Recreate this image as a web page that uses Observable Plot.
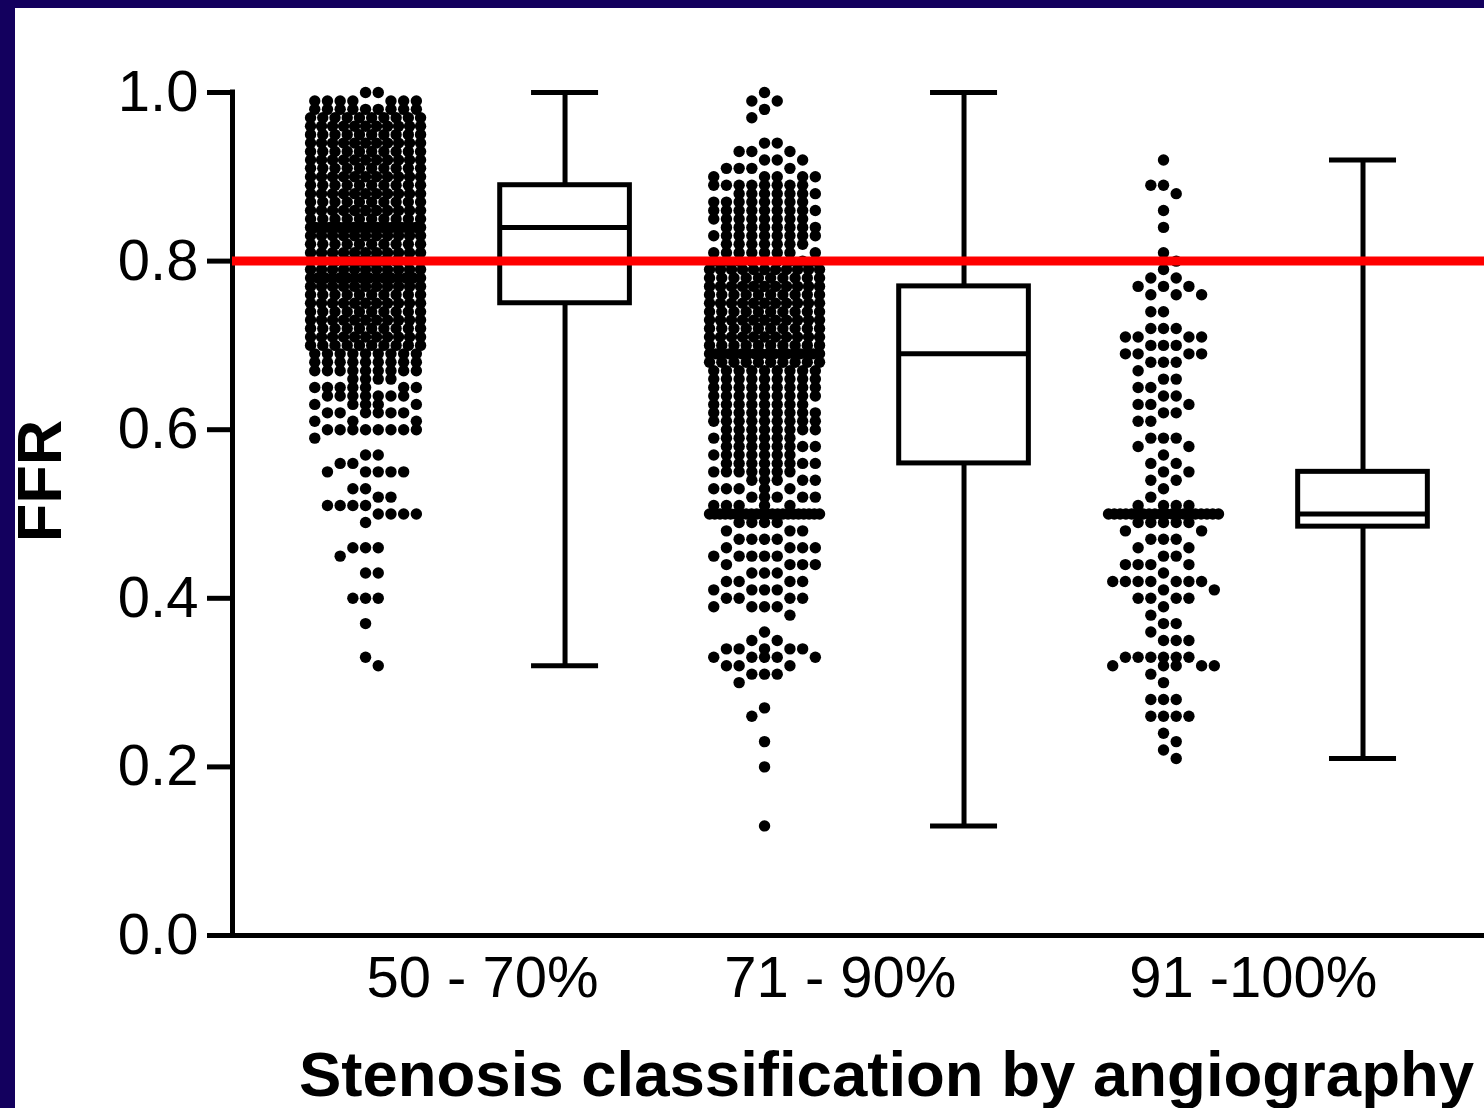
<!DOCTYPE html>
<html>
<head>
<meta charset="utf-8">
<script src="https://cdn.jsdelivr.net/npm/d3@7"></script>
<script src="https://cdn.jsdelivr.net/npm/@observablehq/plot@0.6"></script>
<style>
html, body { margin: 0; padding: 0; background: #13005e; width: 1484px; height: 1108px; overflow: hidden; }
#panel { position: absolute; left: 15px; top: 8px; width: 1469px; height: 1100px; background: #ffffff; }
#chart { position: absolute; left: 0; top: 8px; width: 1484px; height: 1100px; }
#chart svg { display: block; overflow: visible; }
</style>
</head>
<body>
<div id="panel"></div>
<div id="chart"></div>
<script>
// ---------- data ----------
const groups = ["50 - 70%", "71 - 90%", "91 -100%"];
const xTitle = "Stenosis classification by angiography";
const yTitle = "FFR";
const yTicks = [0, 0.2, 0.4, 0.6, 0.8, 1.0];
const cutoff = 0.80;

// individual lesions: FFR value rows and number of dots in each row
const g1Values = [1.00,0.99,0.98,0.97,0.96,0.95,0.94,0.93,0.92,0.91,0.90,0.89,0.88,0.87,0.86,0.85,0.84,0.83,0.82,0.81,0.80,0.79,0.78,0.77,0.76,0.75,0.74,0.73,0.72,0.71,0.70,0.69,0.68,0.67,0.66,0.65,0.64,0.63,0.62,0.61,0.60,0.59,0.57,0.56,0.55,0.53,0.52,0.51,0.50,0.49,0.46,0.45,0.43,0.40,0.37,0.33,0.32];
const g1Counts = [2,7,9,10,11,10,11,10,11,10,11,10,11,10,11,10,24,11,10,11,10,11,16,11,10,11,10,11,10,11,10,9,9,9,4,7,7,5,6,3,8,1,2,2,5,2,2,4,4,1,3,1,2,3,1,1,1];

const g2Values = [1.00,0.99,0.98,0.97,0.94,0.93,0.92,0.91,0.90,0.89,0.88,0.87,0.86,0.85,0.84,0.83,0.82,0.81,0.80,0.79,0.78,0.77,0.76,0.75,0.74,0.73,0.72,0.71,0.70,0.69,0.68,0.67,0.66,0.65,0.64,0.63,0.62,0.61,0.60,0.59,0.58,0.57,0.56,0.55,0.54,0.53,0.52,0.51,0.50,0.49,0.48,0.47,0.46,0.45,0.44,0.43,0.42,0.41,0.40,0.39,0.38,0.36,0.35,0.34,0.33,0.32,0.31,0.30,0.27,0.26,0.23,0.20,0.13];
const g2Counts = [1,2,1,1,2,3,3,4,5,8,7,8,9,8,8,9,7,8,9,11,10,11,10,11,10,11,10,11,10,18,10,9,9,9,9,8,9,9,8,7,8,7,8,7,5,5,5,5,22,4,3,4,4,5,4,3,4,4,4,4,1,1,2,5,5,3,3,1,1,1,1,1,1];

const g3Values = [0.92,0.89,0.88,0.86,0.84,0.81,0.80,0.79,0.78,0.77,0.76,0.74,0.72,0.71,0.70,0.69,0.68,0.67,0.66,0.65,0.64,0.63,0.62,0.61,0.59,0.58,0.57,0.56,0.55,0.54,0.53,0.52,0.51,0.50,0.49,0.48,0.47,0.46,0.45,0.44,0.43,0.42,0.41,0.40,0.39,0.38,0.37,0.36,0.35,0.33,0.32,0.31,0.30,0.28,0.26,0.24,0.23,0.22,0.21];
const g3Counts = [1,2,1,1,1,1,1,1,2,3,3,2,3,4,3,4,3,1,2,2,2,3,2,2,3,2,1,2,2,2,1,1,4,20,5,2,3,2,2,4,1,7,2,4,1,1,2,1,3,6,5,1,1,3,4,1,1,1,1];

// box plot summaries (min to max whiskers)
const boxMin    = [0.32, 0.13, 0.21];
const boxQ1     = [0.75, 0.56, 0.485];
const boxMedian = [0.84, 0.69, 0.50];
const boxQ3     = [0.89, 0.77, 0.55];
const boxMax    = [1.00, 1.00, 0.92];

// ---------- layout ----------
const W = 1484, H = 1100;
const marginLeft = 232, marginRight = 0, marginTop = 84, marginBottom = 173;
const xDomain = [-0.667, 5.609];   // dot column of group i at 2i, box at 2i+1
const pxPerUnit = (W - marginLeft - marginRight) / (xDomain[1] - xDomain[0]);
const colStep = 12.7 / pxPerUnit;
const halfSpan = 55 / pxPerUnit;
const maxCols = 9;
const boxHalf = 0.325, capHalf = 0.168;
const labelNudge = [0.086, -0.12, -0.05];   // hand-placed category labels

function layoutGroup(gi, values, counts) {
  const center = gi * 2;
  const pts = [];
  let prev = new Set();
  let sign = 1;
  values.forEach((v, r) => {
    const n = counts[r];
    if (r > 0 && Math.round((values[r - 1] - v) * 100) > 1) prev = new Set();
    const occ = new Set();
    if (n > maxCols) {
      for (let i = 0; i < n; i++) {
        pts.push({g: gi, ffr: v, x: center - halfSpan + (2 * halfSpan * i) / (n - 1)});
      }
      for (let k = -4; k <= 4; k++) occ.add(k);
    } else {
      const order = [0];
      for (let k = 1; k <= 4; k++) order.push(sign * k, -sign * k);
      const free = order.filter(k => !prev.has(k));
      const taken = order.filter(k => prev.has(k));
      free.concat(taken).slice(0, n).forEach(k => {
        occ.add(k);
        pts.push({g: gi, ffr: v, x: center + k * colStep});
      });
    }
    prev = occ;
    sign = -sign;
  });
  return pts;
}

const dotValues = [g1Values, g2Values, g3Values];
const dotCounts = [g1Counts, g2Counts, g3Counts];
const points = dotValues.flatMap((vals, gi) => layoutGroup(gi, vals, dotCounts[gi]));

const boxes = groups.map((g, i) => ({
  group: g, c: 2 * i + 1,
  min: boxMin[i], q1: boxQ1[i], median: boxMedian[i], q3: boxQ3[i], max: boxMax[i]
}));

const lw = 5;

const chart = Plot.plot({
  width: W,
  height: H,
  marginLeft, marginRight, marginTop, marginBottom,
  x: {domain: xDomain, axis: null},
  y: {domain: [0, 1], axis: null},
  style: {fontFamily: "'Liberation Sans', Arial, Helvetica, sans-serif", fontSize: "58px", background: "transparent", color: "black", overflow: "visible"},
  marks: [
    Plot.axisY({ticks: yTicks, tickFormat: d => d.toFixed(1), tickSize: 25, tickPadding: 9,
      strokeWidth: lw, fontSize: 58, anchor: "left", label: null}),
    Plot.ruleX([xDomain[0]], {y1: 0, y2: 1, stroke: "black", strokeWidth: lw, strokeLinecap: "square"}),
    Plot.ruleY([0], {stroke: "black", strokeWidth: lw, strokeLinecap: "square"}),
    Plot.dot(points, {x: "x", y: "ffr", r: 5.7, fill: "black", stroke: null}),
    Plot.ruleX(boxes, {x: "c", y1: "min", y2: "max", stroke: "black", strokeWidth: lw}),
    Plot.ruleY(boxes, {y: "max", x1: d => d.c - capHalf, x2: d => d.c + capHalf, stroke: "black", strokeWidth: lw}),
    Plot.ruleY(boxes, {y: "min", x1: d => d.c - capHalf, x2: d => d.c + capHalf, stroke: "black", strokeWidth: lw}),
    Plot.rect(boxes, {x1: d => d.c - boxHalf, x2: d => d.c + boxHalf, y1: "q1", y2: "q3",
      fill: "white", stroke: "black", strokeWidth: lw}),
    Plot.ruleY(boxes, {y: "median", x1: d => d.c - boxHalf, x2: d => d.c + boxHalf, stroke: "black", strokeWidth: lw}),
    Plot.ruleY([cutoff], {stroke: "#ff0000", strokeWidth: 9}),
    Plot.text(groups, {x: (d, i) => 2 * i + 0.5 + labelNudge[i], y: () => 0, text: d => d, dy: 61,
      lineAnchor: "bottom", textAnchor: "middle", fontSize: 58, fill: "black"}),
    Plot.text([yTitle], {frameAnchor: "left", dx: -192, dy: -33, rotate: -90,
      textAnchor: "middle", lineAnchor: "middle", fontSize: 63, fontWeight: "bold", fill: "black"}),
    Plot.text([xTitle], {frameAnchor: "bottom", dx: 28, dy: 160,
      textAnchor: "middle", lineAnchor: "bottom", fontSize: 63.5, fontWeight: "bold", fill: "black"})
  ]
});

document.getElementById("chart").appendChild(chart);
</script>
</body>
</html>
